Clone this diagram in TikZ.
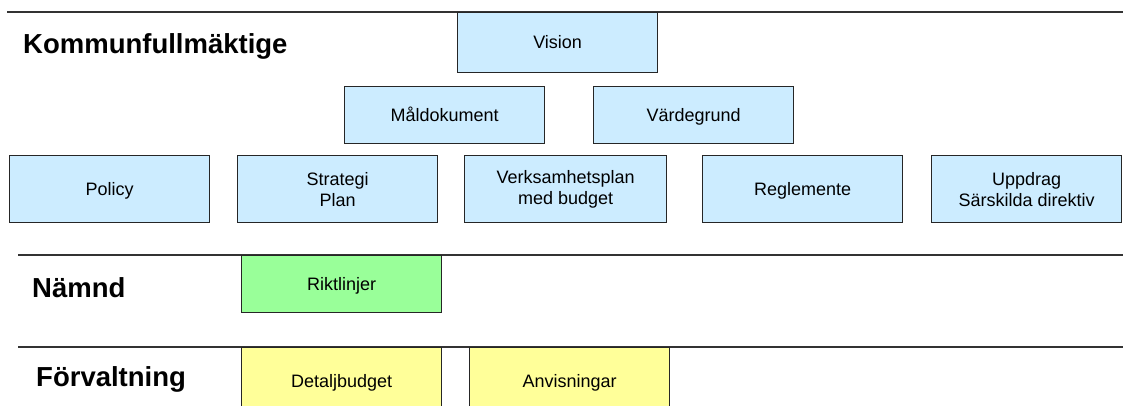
\documentclass[tikz,border=0pt]{standalone}
\usepackage{fontspec}
\setmainfont{Liberation Sans}
\definecolor{docblue}{HTML}{CCECFF}
\definecolor{docgreen}{HTML}{99FF99}
\definecolor{docyellow}{HTML}{FFFF99}
\begin{document}
\begin{tikzpicture}[x=1pt, y=-1pt,
        doc/.style={draw=black!85, line width=1.3pt, anchor=north west, inner sep=0pt,
            minimum width=200pt, align=center, font=\fontsize{18}{21}\selectfont},
        oneline/.style={text height=13pt, text depth=1pt},
        level/.style={anchor=base west, inner sep=0pt, font=\fontsize{27.5}{30}\selectfont\bfseries},
        sep/.style={draw=black!80, line width=1.5pt}]
        \useasboundingbox (0,0) rectangle (1123,405);
        \clip (0,0) rectangle (1123,405);

        % Level lines
            \draw[sep] (7,12) -- (1123,12);
            \draw[sep] (18,255) -- (1123,255);
            \draw[sep] (18,347) -- (1123,347);

            % Level names
            \node[level] (kf) at (23,53) {Kommunfullmäktige};
            \node[level] (nmd) at (32,297) {Nämnd};
            \node[level] (forv) at (36,386) {Förvaltning};

            % Kommunfullmäktige documents (light blue)
            \node[doc, oneline, fill=docblue, minimum height=60pt] (vision) at (457,12) {Vision};
            \node[doc, oneline, fill=docblue, minimum height=57pt] (mal) at (344,86) {Måldokument};
            \node[doc, oneline, fill=docblue, minimum height=57pt] (varde) at (593,86) {Värdegrund};
            \node[doc, oneline, fill=docblue, minimum height=67pt] (policy) at (9,155) {Policy};
            \node[doc, fill=docblue, minimum height=67pt] (strategi) at (237,155) {Strategi\\Plan};
            \node[doc, fill=docblue, minimum height=67pt, minimum width=202pt] (vplan) at (464,155) {Verksamhetsplan\\med budget};
            \node[doc, oneline, fill=docblue, minimum height=67pt] (regl) at (702,155) {Reglemente};
            \node[doc, fill=docblue, minimum height=67pt, minimum width=190pt] (uppdrag) at (931,155) {Uppdrag\\Särskilda direktiv};

            % Nämnd (green)
            \node[doc, oneline, fill=docgreen, minimum height=57pt] (rikt) at (241,255) {Riktlinjer};

            % Förvaltning (yellow, cut at the bottom)
            \node[doc, oneline, fill=docyellow, minimum height=68pt] (detalj) at (241,347) {Detaljbudget};
            \node[doc, oneline, fill=docyellow, minimum height=68pt] (anvis) at (469,347) {Anvisningar};

    \end{tikzpicture}
\end{document}
